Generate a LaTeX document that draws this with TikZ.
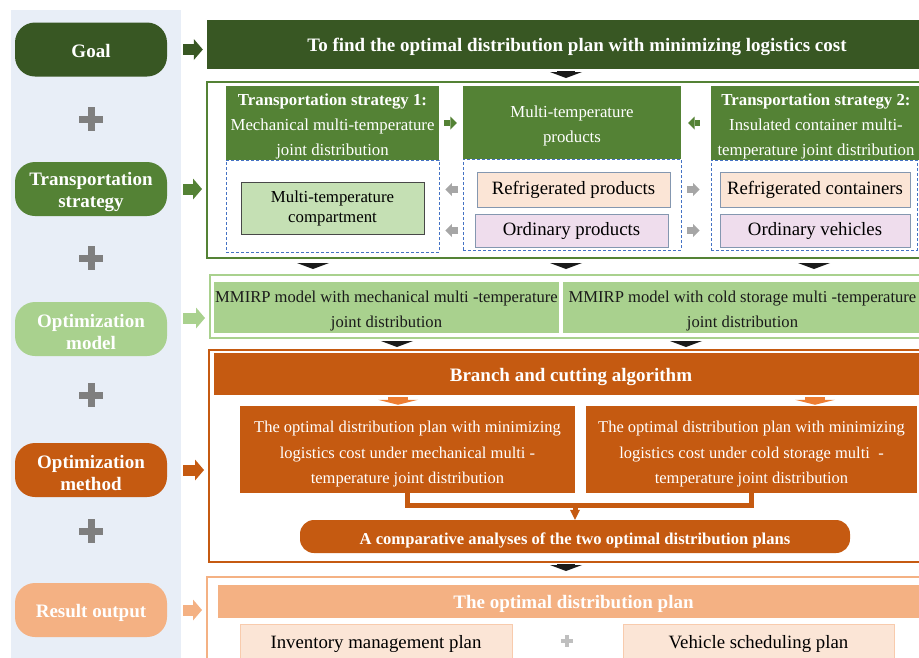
\documentclass[tikz,border=0pt]{standalone}
\usepackage{fontspec}
\setmainfont{Liberation Serif}
\usetikzlibrary{arrows.meta,positioning}
\definecolor{panel}{HTML}{E8EEF7}
\definecolor{goalgreen}{HTML}{385723}
\definecolor{stratgreen}{HTML}{548235}
\definecolor{modelgreen}{HTML}{A9D18E}
\definecolor{compgreen}{HTML}{C5E0B4}
\definecolor{methodorange}{HTML}{C55A11}
\definecolor{lightorange}{HTML}{ED7D31}
\definecolor{resultorange}{HTML}{F4B183}
\definecolor{peach}{HTML}{FBE5D6}
\definecolor{peachedge}{HTML}{F8CBAD}
\definecolor{pinkitem}{HTML}{EFDDED}
\definecolor{itemedge}{HTML}{8497B0}
\definecolor{dashblue}{HTML}{4472C4}
\definecolor{plusgray}{HTML}{7F7F7F}
\definecolor{softgray}{HTML}{A6A6A6}
\definecolor{ink}{HTML}{1A1A1A}
% extra height on a first line, to set the text a little lower
\newcommand{\lift}[1][20pt]{\rule{0pt}{#1}}
\tikzset{
  lowtext/.style={execute at begin node={\rule{0pt}{#1}}},
  sidebox/.style={rounded corners=20pt,minimum width=152pt,minimum height=54pt,
                  inner sep=0pt,align=center,text=white,
                  font=\fontsize{19}{22}\selectfont\bfseries},
  barbox/.style={inner sep=0pt,align=center,text=white,lowtext=19pt,
                 font=\fontsize{19}{23}\selectfont\bfseries},
  headbox/.style={fill=stratgreen,inner sep=0pt,align=center,text=white,
                  font=\fontsize{16.8}{25}\selectfont},
  dashcol/.style={draw=dashblue,dash pattern=on 3pt off 2pt,line width=0.9pt,inner sep=0pt},
  itembox/.style={draw=itemedge,line width=0.9pt,inner sep=0pt,align=center,
                  minimum height=34pt,font=\fontsize{18.8}{22}\selectfont},
  framebox/.style={line width=2pt,inner sep=0pt},
  modelbox/.style={fill=modelgreen,inner sep=0pt,align=center,text=ink,
                   minimum height=51pt,font=\fontsize{16.6}{25}\selectfont},
  planbox/.style={fill=methodorange,inner sep=0pt,align=center,text=white,
                  minimum height=87pt,font=\fontsize{16.5}{25.5}\selectfont},
  fatarr/.style={-{Triangle[length=9pt,width=21pt,line width=0pt]},line width=11pt,
                 shorten <=16pt,shorten >=4pt},
  minarr/.style={-{Triangle[length=6.5pt,width=13pt,line width=0pt]},line width=6.5pt},
  downarr/.style={-{Triangle[length=6pt,width=32pt,line width=0pt]},line width=18pt,color=ink},
  plusmark/.style={line width=7pt,color=plusgray},
  ubrack/.style={line width=5pt,color=methodorange}
}
\begin{document}
\begin{tikzpicture}[x=1pt,y=-1pt]
  \useasboundingbox (0,0) rectangle (919,657);
  \fill[panel] (11,10) rectangle (181,660);

  % left column
  \node[sidebox,fill=goalgreen,lowtext=17pt] (goal) at (91,49.5) {Goal};
  \node[sidebox,fill=stratgreen] (strat) at (91,189) {\lift Transportation\\strategy};
  \node[sidebox,fill=modelgreen] (model) at (91,329) {\lift Optimization\\model};
  \node[sidebox,fill=methodorange] (method) at (91,470) {\lift Optimization\\method};
  \node[sidebox,fill=resultorange,lowtext=19pt] (result) at (91,610) {Result output};
  \foreach \py in {119,258,395,531}
    \draw[plusmark] (79,\py) -- (103,\py) (91,\py-12) -- (91,\py+12);

  % goal
  \node[barbox,fill=goalgreen,minimum width=740pt,minimum height=49pt] (goalbar) at (577,44.5)
    {To find the optimal distribution plan with minimizing logistics cost};

  % transportation strategy
  \node[framebox,draw=stratgreen,minimum width=718pt,minimum height=176pt] (trans) at (566,170) {};
  \node[dashcol,minimum width=213pt,minimum height=92pt] (col1) at (332.5,206) {};
  \node[dashcol,minimum width=218pt,minimum height=91pt] (col2) at (572,204.5) {};
  \node[dashcol,minimum width=206pt,minimum height=90pt] (col3) at (814,205) {};
  \node[headbox,minimum width=213pt,minimum height=74pt] (head1) at (332.5,123)
    {\lift[19.5pt]\textbf{Transportation strategy 1:}\\Mechanical multi-temperature\\joint distribution};
  \node[headbox,minimum width=218pt,minimum height=73pt] (head2) at (572,122.5)
    {\lift[19.5pt]Multi-temperature\\products};
  \node[headbox,minimum width=210pt,minimum height=74pt] (head3) at (816,123)
    {\lift[19.5pt]\textbf{Transportation strategy 2:}\\Insulated container multi-\\temperature joint distribution};
  \node[itembox,draw=ink!80,fill=compgreen,minimum width=183pt,minimum height=52pt,
        font=\fontsize{16.8}{20}\selectfont] (compart) at (332.5,208) {Multi-temperature\\compartment};
  \node[itembox,fill=peach,minimum width=193pt,minimum height=35pt] (refprod) at (573.5,189.5) {Refrigerated products};
  \node[itembox,fill=pinkitem,minimum width=193pt,minimum height=33pt] (ordprod) at (571.5,230.5) {Ordinary products};
  \node[itembox,fill=peach,minimum width=190pt,minimum height=35pt] (refcont) at (815,189.5) {Refrigerated containers};
  \node[itembox,fill=pinkitem,minimum width=190pt,minimum height=33pt] (ordveh) at (815,230.5) {Ordinary vehicles};
  \draw[minarr,stratgreen,shorten <=5pt,shorten >=6pt] (head1.east) -- (head1.east -| head2.west);
  \draw[minarr,stratgreen,shorten <=11pt,shorten >=7pt] (head3.west) -- (head3.west -| head2.east);
  \foreach \it in {refprod,ordprod} {
    \draw[minarr,softgray,shorten <=5pt,shorten >=6pt] (\it.west -| col2.west) -- (\it.west -| col1.east);
    \draw[minarr,softgray,shorten <=6pt,shorten >=11pt] (\it.east -| col2.east) -- (\it.east -| col3.west);
  }

  % optimization model
  \node[framebox,draw=modelgreen,minimum width=715pt,minimum height=63pt] (modelf) at (567.5,306.5) {};
  \node[modelbox,minimum width=345pt] (m1) at (386.5,307.5)
    {\lift[19.3pt]MMIRP model with mechanical multi -temperature\\joint distribution};
  \node[modelbox,minimum width=359pt] (m2) at (742.5,307.5)
    {\lift[19.3pt]MMIRP model with cold storage multi -temperature\\joint distribution};

  % optimization method
  \node[framebox,draw=methodorange,minimum width=716pt,minimum height=212pt] (methodf) at (567,456) {};
  \node[barbox,fill=methodorange,minimum width=714pt,minimum height=42pt] (bar) at (571,374)
    {Branch and cutting algorithm};
  \node[planbox,minimum width=335pt] (p1) at (407.5,449.5)
    {\lift[21.3pt]The optimal distribution plan with minimizing\\logistics cost under mechanical multi -\\temperature joint distribution};
  \node[planbox,minimum width=331pt] (p2) at (751.5,449.5)
    {\lift[21.3pt]The optimal distribution plan with minimizing\\logistics cost under cold storage multi \ -\\temperature joint distribution};
  \node[barbox,fill=methodorange,rounded corners=14pt,minimum width=550pt,minimum height=33pt,
        lowtext=17.5pt,font=\fontsize{16.6}{20}\selectfont\bfseries] (compare) at (575,536.5)
    {A comparative analyses of the two optimal distribution plans};
  \draw[ubrack] (p1.south) -- ++(0,12) coordinate (ubot) -| (p2.south);
  \draw[ubrack,-{Triangle[length=10pt,width=10pt,line width=0pt]}] (ubot -| compare.north) -- (compare.north);
  \draw[downarr,lightorange,line width=20pt,-{Triangle[length=5pt,width=40pt,line width=0pt]},
        shorten <=2pt,shorten >=1pt] (bar.south -| 398,0) -- (p1.north -| 398,0);
  \draw[downarr,lightorange,line width=20pt,-{Triangle[length=5pt,width=40pt,line width=0pt]},
        shorten <=2pt,shorten >=1pt] (bar.south -| 815,0) -- (p2.north -| 815,0);

  % result output
  \node[framebox,draw=resultorange,minimum width=718pt,minimum height=88pt] (resultf) at (566,621) {};
  \node[barbox,fill=resultorange,minimum width=711pt,minimum height=33pt] (resbar) at (573.5,601.5)
    {The optimal distribution plan};
  \node[itembox,fill=peach,draw=peachedge,lowtext=19pt,minimum width=272pt] (inv) at (376,641) {Inventory management plan};
  \node[itembox,fill=peach,draw=peachedge,lowtext=19pt,minimum width=271pt] (veh) at (758.5,641) {Vehicle scheduling plan};
  \draw[line width=4pt,color=plusgray!50] (561,641) -- (573,641) (567,635) -- (567,647);

  % side arrows
  \draw[fatarr,goalgreen] (goal.east) -- (goal.east -| goalbar.west);
  \draw[fatarr,stratgreen] (strat.east) -- (strat.east -| trans.west);
  \draw[fatarr,modelgreen] ([yshift=11pt]model.east) -- ([yshift=11pt]model.east -| modelf.west);
  \draw[fatarr,methodorange] (method.east) -- (method.east -| methodf.west);
  \draw[fatarr,resultorange] (result.east) -- (result.east -| resultf.west);

  % flow arrows
  \draw[downarr,shorten <=2pt,shorten >=3pt] (goalbar.south -| trans.north) -- (trans.north);
  \draw[downarr,shorten <=4pt,shorten >=5pt] (trans.south -| 313,0) -- (modelf.north -| 313,0);
  \draw[downarr,shorten <=4pt,shorten >=5pt] (trans.south) -- (modelf.north -| trans.south);
  \draw[downarr,shorten <=4pt,shorten >=5pt] (trans.south -| col3.south) -- (modelf.north -| col3.south);
  \draw[downarr,shorten <=2pt,shorten >=2pt] (modelf.south -| 397,0) -- (methodf.north -| 397,0);
  \draw[downarr,shorten <=2pt,shorten >=2pt] (modelf.south -| 686,0) -- (methodf.north -| 686,0);
  \draw[downarr,shorten <=1pt,shorten >=5pt] (methodf.south -| resultf.north) -- (resultf.north);
\end{tikzpicture}
\end{document}
